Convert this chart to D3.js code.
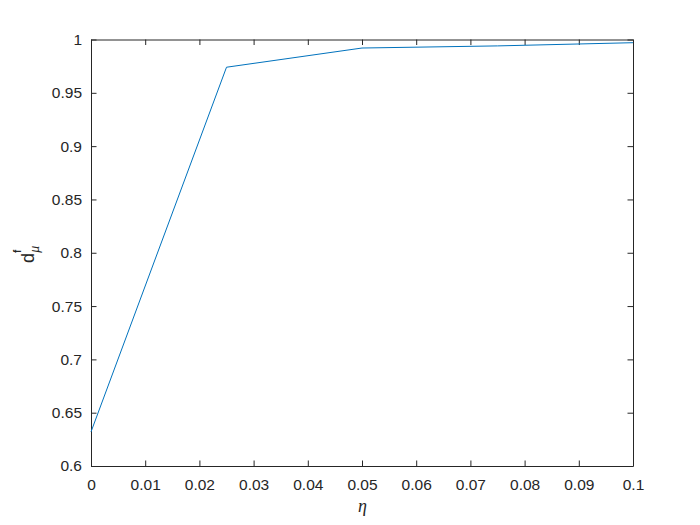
<!DOCTYPE html>
<html>
<head>
<meta charset="utf-8">
<script src="https://cdn.jsdelivr.net/npm/d3@7"></script>
<style>
  body { margin: 0; background: #fff; }
  svg { display: block; }
</style>
</head>
<body>
<div id="chart-container"></div>
<script>
// data
const etaValues = [0, 0.025, 0.05, 0.075, 0.1];
const dValues = [0.632, 0.974, 0.992, 0.994, 0.997];
const xTicks = [0, 0.01, 0.02, 0.03, 0.04, 0.05, 0.06, 0.07, 0.08, 0.09, 0.1];
const yTicks = [0.6, 0.65, 0.7, 0.75, 0.8, 0.85, 0.9, 0.95, 1];

const width = 700, height = 525;
const marginLeft = 91, marginRight = 67, marginTop = 39.5, marginBottom = 59;
const axisColor = "#262626";
const font = "'Liberation Sans', Arial, sans-serif";

const svg = d3.select("#chart-container")
  .append("svg")
  .attr("width", width)
  .attr("height", height);

const x = d3.scaleLinear().domain([0, 0.1]).range([marginLeft, width - marginRight]);
const y = d3.scaleLinear().domain([0.6, 1]).range([height - marginBottom, marginTop]);

const fmt = (d) => String(+d.toFixed(3));
const tickLen = 5.5;

// box with inward ticks on all sides
svg.append("g")
  .attr("transform", `translate(0,${height - marginBottom})`)
  .call(d3.axisBottom(x).tickValues(xTicks).tickFormat(fmt).tickSizeInner(-tickLen).tickSizeOuter(0).tickPadding(13));
svg.append("g")
  .attr("transform", `translate(0,${marginTop})`)
  .call(d3.axisTop(x).tickValues(xTicks).tickFormat("").tickSizeInner(-tickLen).tickSizeOuter(0));
svg.append("g")
  .attr("transform", `translate(${marginLeft},0)`)
  .call(d3.axisLeft(y).tickValues(yTicks).tickFormat(fmt).tickSizeInner(-tickLen).tickSizeOuter(0).tickPadding(9));
svg.append("g")
  .attr("transform", `translate(${width - marginRight},0)`)
  .call(d3.axisRight(y).tickValues(yTicks).tickFormat("").tickSizeInner(-tickLen).tickSizeOuter(0));

svg.selectAll(".domain, .tick line").attr("stroke", axisColor).attr("stroke-width", 1);
svg.selectAll(".tick text")
  .attr("fill", axisColor)
  .style("font-family", font)
  .style("font-size", "15.5px");

// the line
const line = d3.line().x((d, i) => x(etaValues[i])).y((d) => y(d));
svg.append("path")
  .datum(dValues)
  .attr("fill", "none")
  .attr("stroke", "#0072BD")
  .attr("stroke-width", 1)
  .attr("d", line);

// x label
svg.append("text")
  .attr("x", x(0.05) + 0.5)
  .attr("y", 512)
  .attr("text-anchor", "middle")
  .attr("fill", axisColor)
  .style("font-family", "'Liberation Serif', 'DejaVu Serif', serif")
  .style("font-style", "italic")
  .style("font-size", "18px")
  .text("η");

// y label d^f_mu
const yl = svg.append("text")
  .attr("transform", "translate(34, 263) rotate(-90)")
  .attr("fill", axisColor)
  .style("font-family", font)
  .style("font-size", "18px");
yl.append("tspan").text("d");
yl.append("tspan").attr("dy", -13).style("font-size", "10px").style("font-weight", "bold").text("f");
yl.append("tspan").attr("dx", -3).attr("dy", 18).style("font-size", "14px")
  .style("font-family", "'Liberation Serif', serif").style("font-style", "italic").text("μ");
</script>
</body>
</html>
